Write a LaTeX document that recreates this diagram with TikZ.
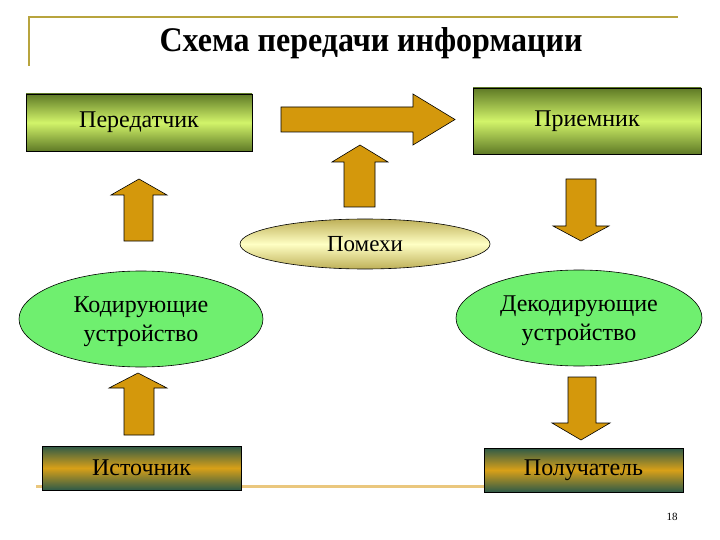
\documentclass[tikz,border=0pt]{standalone}
\usepackage{fontspec}
\setmainfont{Liberation Serif}
\usetikzlibrary{shapes.geometric}
\definecolor{arrowgold}{HTML}{D4980C}
\definecolor{olivedark}{HTML}{5F7A26}
\definecolor{limebright}{HTML}{D2F46A}
\definecolor{tealdark}{HTML}{2E5A48}
\definecolor{goldmid}{HTML}{D8A018}
\definecolor{khaki}{HTML}{BEB058}
\definecolor{paleyellow}{HTML}{FFFFC4}
\definecolor{lightgreen}{HTML}{6FEF6F}
\definecolor{framecol}{HTML}{B8A43E}
\definecolor{bottomcol}{HTML}{EAC77E}
\tikzset{
  limebox/.style={draw=black, line width=0.8pt, top color=olivedark, bottom color=olivedark, middle color=limebright, inner sep=0pt, font=\fontsize{24}{28}\selectfont},
  goldbox/.style={draw=black, line width=0.8pt, top color=tealdark, bottom color=tealdark, middle color=goldmid, inner sep=0pt, font=\fontsize{24}{28}\selectfont},
  greenoval/.style={ellipse, draw=black, line width=0.6pt, fill=lightgreen, inner sep=0pt},
  ovaltext/.style={align=center, inner sep=0pt, font=\fontsize{24}{29}\selectfont},
  noiseoval/.style={ellipse, draw=black, line width=0.6pt, top color=khaki, bottom color=khaki, middle color=paleyellow, inner sep=0pt, font=\fontsize{23}{28}\selectfont},
  blockarrow/.style={draw=black, line width=0.6pt, fill=arrowgold, line join=miter}
}
\begin{document}
\begin{tikzpicture}[x=1pt, y=-1pt]
\useasboundingbox (0,0) rectangle (720,540);
% frame lines
\draw[framecol, line width=2pt] (29,66) -- (29,17.5) -- (678,17.5);
\draw[bottomcol, line width=3pt] (36,486) -- (484,486);
% title
\node (title) at (371,43) {\scalebox{1}[1.08]{\fontsize{32}{38}\selectfont\bfseries Схема передачи информации}};
% boxes
\node[limebox, minimum width=226pt, minimum height=57pt] (tx) at (139,122.5) {Передатчик};
\node[limebox, minimum width=228pt, minimum height=66pt] (rx) at (587,121) {Приемник};
\node[goldbox, minimum width=199pt, minimum height=44pt] (src) at (141.5,468) {Источник};
\node[goldbox, minimum width=199pt, minimum height=44pt] (dst) at (583.5,470) {Получатель};
% ellipses
\node[noiseoval, minimum width=250pt, minimum height=50pt] (noise) at (365,244) {\raisebox{-2pt}{Помехи}};
\node[greenoval, minimum width=244pt, minimum height=96pt] (enc) at (141,319) {};
\node[ovaltext] (enctext) at ([yshift=-3pt]enc.center) {Кодирующие\\устройство};
\node[greenoval, minimum width=246pt, minimum height=96pt] (dec) at (579,318) {};
\node[ovaltext] (dectext) at ([yshift=-3pt]dec.center) {Декодирующие\\устройство};
% big right arrow
\draw[blockarrow] (281,107) -- (413,107) -- (413,94) -- (455,119.5) -- (413,145) -- (413,132) -- (281,132) -- cycle;
% up arrow from noise
\draw[blockarrow] (344,207) -- (344,162) -- (332,162) -- (360,145) -- (388,162) -- (375,162) -- (375,207) -- cycle;
% left up arrow (encoder -> transmitter)
\draw[blockarrow] (124,241) -- (124,195) -- (111,195) -- (139,179) -- (167,195) -- (153,195) -- (153,241) -- cycle;
% right down arrow (receiver -> decoder)
\draw[blockarrow] (566,179) -- (596,179) -- (596,226) -- (609,226) -- (581,241) -- (553,226) -- (566,226) -- cycle;
% lower left up arrow (source -> encoder)
\draw[blockarrow] (124,435) -- (124,388) -- (109,388) -- (138,373) -- (167,388) -- (154,388) -- (154,435) -- cycle;
% lower right down arrow (decoder -> destination)
\draw[blockarrow] (568,377) -- (596,377) -- (596,423) -- (610,423) -- (581,440) -- (552,423) -- (568,423) -- cycle;
% page number
\node[font=\fontsize{11}{13}\selectfont] (pagenum) at (672,517) {18};
\end{tikzpicture}
\end{document}
